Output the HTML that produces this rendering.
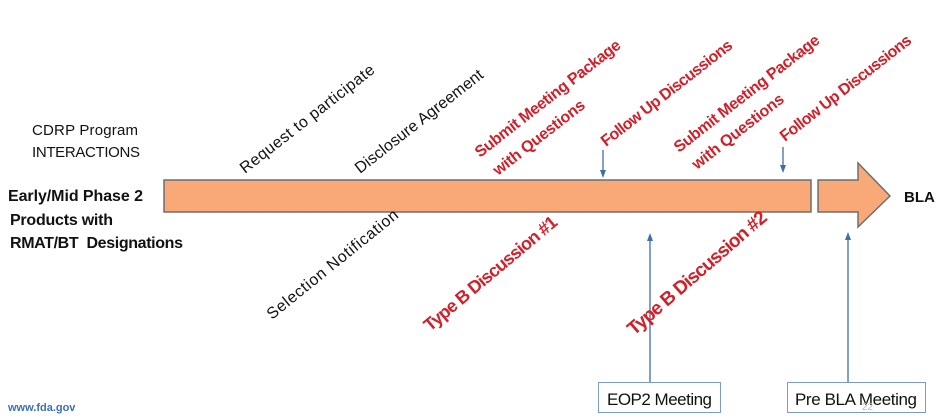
<!DOCTYPE html>
<html><head><meta charset="utf-8"><style>
html,body{margin:0;padding:0;background:#fff;}
svg{display:block;font-family:"Liberation Sans",sans-serif;}
</style></head><body>
<svg width="936" height="419" viewBox="0 0 936 419" xmlns="http://www.w3.org/2000/svg">
<defs>
<marker id="ah" markerWidth="8" markerHeight="8" refX="4" refY="4" orient="auto" markerUnits="userSpaceOnUse">
<path d="M0,1 L8,4 L0,7 z" fill="#3f6fa6"/></marker>
</defs>
<rect x="164" y="180" width="647" height="32" fill="#f9a877" stroke="#6e6e6e" stroke-width="1.5"/>
<path d="M818,180 L858,180 L858,163 L890,196 L858,227 L858,212 L818,212 Z" fill="#f9a877" stroke="#6e6e6e" stroke-width="1.5"/>
<g stroke="#3f6fa6" stroke-width="1.3" fill="none">
<line x1="603" y1="150" x2="603" y2="174" marker-end="url(#ah)"/>
<line x1="783" y1="147" x2="783" y2="169" marker-end="url(#ah)"/>
<line x1="650" y1="382" x2="650" y2="237" marker-end="url(#ah)"/>
<line x1="848" y1="382" x2="848" y2="236" marker-end="url(#ah)"/>
</g>
<rect x="598.5" y="382.5" width="122" height="30" fill="#fff" stroke="#7a9cc6"/>
<rect x="787.5" y="382.5" width="138" height="30" fill="#fff" stroke="#7a9cc6"/>
<text x="607" y="405" font-size="17" fill="#111" textLength="105">EOP2 Meeting</text>
<text x="795" y="405" font-size="17" fill="#111" textLength="122">Pre BLA Meeting</text>
<text x="862" y="410" font-size="10" fill="#bbb">22</text>
<text x="32" y="135" font-size="15" fill="#111" textLength="106">CDRP Program</text>
<text x="32" y="157" font-size="15" fill="#111" textLength="108">INTERACTIONS</text>
<text x="8" y="201" font-size="16" font-weight="bold" fill="#111" textLength="135">Early/Mid Phase 2</text>
<text x="10" y="225" font-size="16" font-weight="bold" fill="#111" textLength="103">Products with</text>
<text x="10" y="248" font-size="16" font-weight="bold" fill="#111" textLength="173" xml:space="preserve">RMAT/BT  Designations</text>
<text x="904" y="202" font-size="15" font-weight="bold" fill="#111">BLA</text>
<text x="8" y="411" font-size="11" font-weight="bold" fill="#3d6fb5">www.fda.gov</text>
<g font-size="16" fill="#111">
<text transform="translate(245,174) rotate(-38)" textLength="166">Request to participate</text>
<text transform="translate(360,174) rotate(-38)" textLength="158">Disclosure Agreement</text>
<text transform="translate(272,320) rotate(-39)" textLength="164">Selection Notification</text>
</g>
<g font-size="16" font-weight="bold" fill="#d0202a">
<text transform="translate(480,158) rotate(-38)" textLength="180">Submit Meeting Package</text>
<text transform="translate(498,176) rotate(-38)" textLength="112">with Questions</text>
<text transform="translate(606,147) rotate(-38)" textLength="162">Follow Up Discussions</text>
<text transform="translate(679,153) rotate(-38)" textLength="180">Submit Meeting Package</text>
<text transform="translate(697,170) rotate(-38)" textLength="112">with Questions</text>
<text transform="translate(785,142) rotate(-38)" textLength="162">Follow Up Discussions</text>
</g>
<g font-weight="bold" fill="#d0202a">
<text transform="translate(430,332) rotate(-40)" font-size="18" textLength="168">Type B Discussion #1</text>
<text transform="translate(634,336) rotate(-41)" font-size="19" textLength="178">Type B Discussion #2</text>
</g>
</svg>
</body></html>
